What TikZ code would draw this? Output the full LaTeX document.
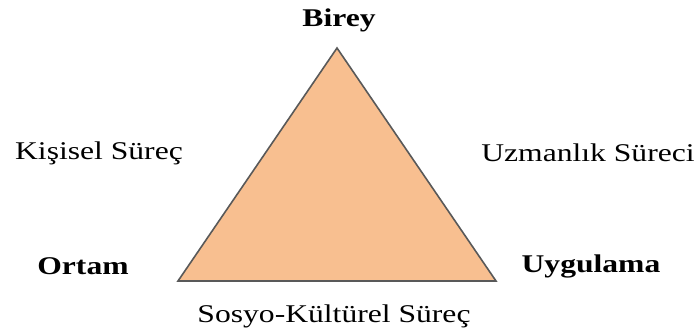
\documentclass[tikz,border=0pt]{standalone}
\usepackage{fontspec}
\setmainfont[FakeStretch=1.24]{Liberation Serif}
\definecolor{tenfill}{HTML}{F8BF90}
\definecolor{tenline}{HTML}{595959}

\begin{document}
\begin{tikzpicture}[x=1pt, y=-1pt, font=\fontsize{25.5}{30}\selectfont,
  corner/.style={font=\fontsize{25.5}{30}\selectfont\bfseries},
  side/.style={}]
  \useasboundingbox (0,0) rectangle (698,335);
  % the triangle: individual at the top, setting and practice at the base
  \coordinate (top) at (337,48);
  \coordinate (left) at (178,281);
  \coordinate (right) at (496,281);
  \draw[fill=tenfill, draw=tenline, line width=1.6pt, line join=miter] (top) -- (left) -- (right) -- cycle;
  % corner labels
  \node[corner] (birey) at (339,20) {Birey};
  \node[corner] (ortam) at (83,266) {Ortam};
  \node[corner] (uygulama) at (591,266) {Uygulama};
  % side labels
  \node[side] (kisisel) at (99,153) {Kişisel Süreç};
  \node[side] (uzmanlik) at (588,153) {Uzmanlık Süreci};
  \node[side] (sosyo) at (334,316) {Sosyo-Kültürel Süreç};
\end{tikzpicture}
\end{document}
